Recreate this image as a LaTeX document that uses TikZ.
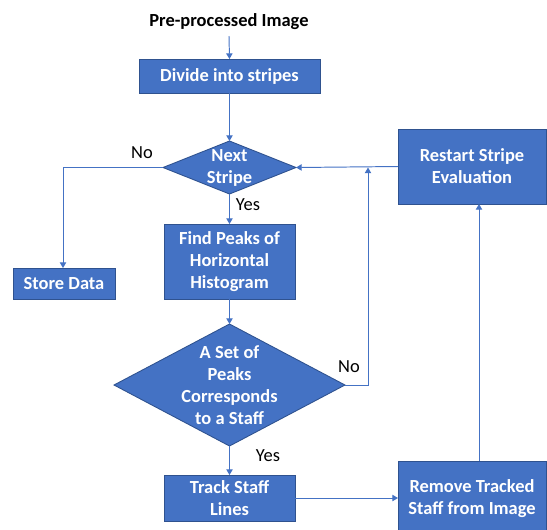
\documentclass[tikz,border=0pt]{standalone}
\usepackage{fontspec}
\setmainfont{Carlito}
\usetikzlibrary{shapes.geometric,arrows.meta,calc}
\definecolor{boxblue}{HTML}{4472C4}
\definecolor{boxedge}{HTML}{2F528F}
\begin{document}
\begin{tikzpicture}[x=0.02cm,y=-0.02cm,
  txt/.style={font=\fontsize{10.5}{12.5}\selectfont\bfseries, text=white, align=center, inner sep=0pt},
  procbox/.style={draw=boxedge, line width=0.5pt, fill=boxblue, inner sep=0pt, outer sep=0pt},
  decbox/.style={diamond, draw=boxedge, line width=0.5pt, fill=boxblue, inner sep=0pt, outer sep=0pt},
  lab/.style={font=\fontsize{10.5}{12}\selectfont, inner sep=0pt},
  arr/.style={draw=boxblue, line width=0.55pt, -{Triangle[width=3.6pt,length=3.2pt]}},
  ln/.style={draw=boxblue, line width=0.55pt}]
\useasboundingbox (0,0) rectangle (547,529);
\begin{scope}
\clip (0,0) rectangle (547,529);
% title
\node[font=\fontsize{10.5}{12}\selectfont\bfseries, inner sep=0pt] (title) at (229,22) {Pre-processed Image};
% boxes
\node[procbox, minimum width=181*0.02cm, minimum height=34*0.02cm] (divide) at (229.5,76) {};
\node[txt] (dividet) at (divide.center) {Divide into stripes};
\node[decbox, minimum width=133*0.02cm, minimum height=53*0.02cm] (ns) at (229.5,167.5) {};
\node[txt] (nst) at (ns.center) {Next\\Stripe};
\node[procbox, minimum width=102*0.02cm, minimum height=31*0.02cm] (store) at (64,283.5) {};
\node[txt] (storet) at (store.center) {Store Data};
\node[procbox, minimum width=131*0.02cm, minimum height=75*0.02cm] (fp) at (229.5,261.5) {};
\node[txt] (fpt) at (fp.center) {Find Peaks of\\Horizontal\\Histogram};
\node[decbox, minimum width=231*0.02cm, minimum height=122*0.02cm] (set) at (229.5,385) {};
\node[txt] (sett) at (set.center) {A Set of\\Peaks\\Corresponds\\to a Staff};
\node[procbox, minimum width=131*0.02cm, minimum height=46*0.02cm] (track) at (229.5,498) {};
\node[txt] (trackt) at (track.center) {Track Staff\\Lines};
\node[procbox, minimum width=148*0.02cm, minimum height=76*0.02cm] (remove) at (472,499) {};
\node[txt] (removet) at (remove.center) {Remove Tracked\\Staff from Image};
\node[procbox, minimum width=148*0.02cm, minimum height=75*0.02cm] (restart) at (472,166.5) {};
\node[txt] (restartt) at (restart.center) {Restart Stripe\\Evaluation};
% helper coordinates
\coordinate (nox) at (63,0);
\coordinate (loopx) at (368,0);
\coordinate (rx) at (479,0);
\coordinate (j) at (ns.east -| loopx);
% connectors
\draw[arr] (title.south |- 0,36) -- (divide.north);
\draw[arr] (divide.south) -- (ns.north);
\draw[arr] (ns.west) -- (ns.west -| nox) -- (store.north -| nox);
\draw[arr] (ns.south) -- (fp.north);
\draw[arr] (fp.south) -- (set.north);
\draw[arr] (set.east) -- (set.east -| loopx) -- (j);
\draw[arr] (restart.west) -- (ns.east);
\draw[arr] (set.south) -- (track.north);
\draw[arr] (track.east) -- (track.east -| remove.west);
\draw[arr] (remove.north -| rx) -- (restart.south -| rx);
% labels
\node[lab] (no1) at (142,153) {No};
\node[lab] (yes1) at (248,205) {Yes};
\node[lab] (no2) at (349,367) {No};
\node[lab] (yes2) at (268,456) {Yes};
\end{scope}
\end{tikzpicture}
\end{document}
